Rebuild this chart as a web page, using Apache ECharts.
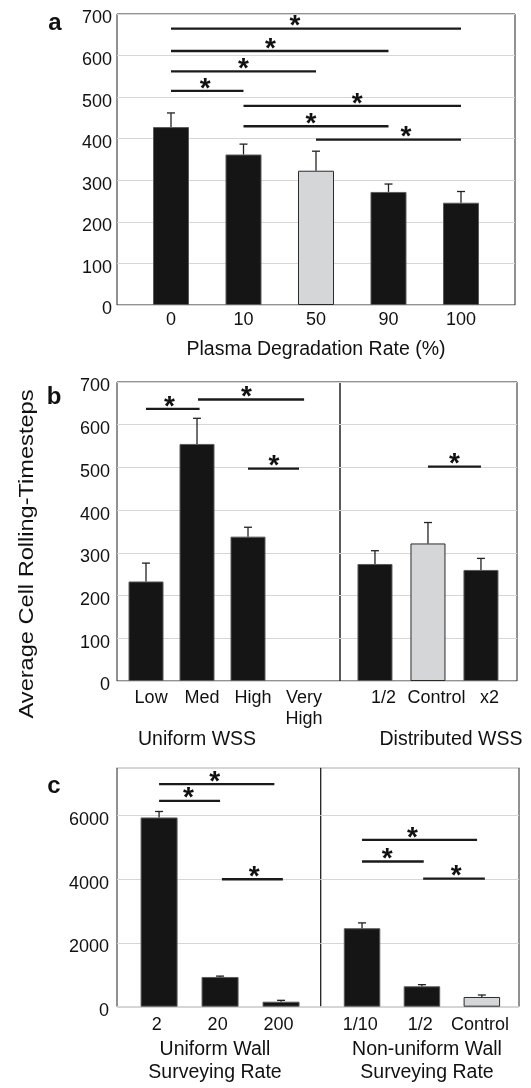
<!DOCTYPE html>
<html>
<head>
<meta charset="utf-8">
<script src="https://cdn.jsdelivr.net/npm/echarts@6/dist/echarts.min.js"></script>
<style>
html,body{margin:0;padding:0;background:#fff;}
#c{width:531px;height:1088px;}
</style>
</head>
<body>
<div id="c"></div>
<script>
// ---------- DATA ----------
// Panel a
const catsA = ['0', '10', '50', '90', '100'];
const valsA = [428, 362, 323, 272, 246];
const errA  = [462, 387, 370, 291, 273];
const controlA = 2;
// significance: [from, to, y, asterisk x]
const sigA = [[0, 4, 665, 1.71], [0, 3, 611, 1.37], [0, 2, 562, 1.0], [0, 1, 515, 0.47],
              [1, 4, 479, 2.57], [1, 3, 430, 1.93], [2, 4, 398, 3.24]];

// Panel b
const catsB1 = ['Low', 'Med', 'High', 'Very\nHigh'];
const valsB1 = [233, 555, 338, null];
const errB1  = [276, 615, 360, null];
const sigB1  = [[0, 1.05, 637, 0.46], [1.02, 3.1, 659, 1.97], [2, 3, 497, 2.51]];
const catsB2 = ['1/2', 'Control', 'x2'];
const valsB2 = [274, 322, 260];
const errB2  = [305, 371, 287];
const controlB2 = 1;
const sigB2  = [[1, 2, 502, 1.5]];

// Panel c
const catsC1 = ['2', '20', '200'];
const valsC1 = [5938, 933, 157];
const errC1  = [6126, 960, 200];
const sigC1  = [[0, 1.89, 6987, 0.91], [0, 1, 6462, 0.48], [1.03, 2.03, 4000, 1.56]];
const catsC2 = ['1/10', '1/2', 'Control'];
const valsC2 = [2462, 640, 305];
const errC2  = [2630, 692, 367];
const controlC2 = 2;
const sigC2  = [[0, 1.92, 5237, 0.84], [0, 1.03, 4556, 0.42], [1.02, 2.05, 4022, 1.57]];

const yTicksAB = {min: 0, max: 700, interval: 100};
const yTicksC  = {min: 0, max: 7500, interval: 2000};

// ---------- STYLE / BUILD ----------
const FONT = '"Liberation Sans", Arial, Helvetica, sans-serif';
const BLACK = '#151515';
const GRAY = '#d5d6d8';
const TICK_FS = 18;
const NAME_FS = 19.5;
const chart = echarts.init(document.getElementById('c'), null, {renderer: 'canvas'});

function gridDef(left, top, width, height) {
  return {left, top, width, height, show: true, borderColor: '#222', borderWidth: 1,
          backgroundColor: 'transparent', containLabel: false};
}
// labelShift: small offset (in axis units) of the tick labels relative to bar centres
function xAxisDef(gi, cats, min, max, opts) {
  opts = opts || {};
  const shift = opts.shift || 0;
  const idx = cats.map((c, i) => i + shift);
  return {
    type: 'value', gridIndex: gi, min, max,
    axisLine: {show: false}, axisTick: {show: false}, splitLine: {show: false},
    axisLabel: {
      customValues: idx, showMinLabel: true, showMaxLabel: true, hideOverlap: false,
      formatter: (v) => { const i = Math.round(v - shift); return cats[i] !== undefined ? cats[i] : ''; },
      color: '#111', fontFamily: FONT, fontSize: TICK_FS, lineHeight: opts.lh || 21,
      margin: opts.margin || 6, align: 'center'
    }
  };
}
function yAxisDef(gi, ticks, showLabels, margin, hideMax) {
  return {
    type: 'value', gridIndex: gi, min: ticks.min, max: ticks.max, interval: ticks.interval,
    axisLine: {show: false}, axisTick: {show: false},
    splitLine: {show: true, lineStyle: {color: '#d6d6d6', width: 1}},
    axisLabel: {show: showLabels, color: '#111', fontFamily: FONT, fontSize: TICK_FS, margin: margin,
                showMaxLabel: !hideMax, verticalAlign: 'top', lineHeight: 9,
                formatter: (v) => String(v)}
  };
}
function barSeries(gi, vals, control, width) {
  const data = [];
  vals.forEach((v, i) => {
    if (v === null) return;
    const isCtrl = i === control;
    data.push({value: [i, v], itemStyle: {
      color: isCtrl ? GRAY : BLACK,
      borderColor: isCtrl ? '#2a2a2a' : '#5a5a5a', borderWidth: 1}});
  });
  return {type: 'bar', xAxisIndex: gi, yAxisIndex: gi, barWidth: width, data, z: 2,
          animation: false};
}
function errSeries(gi, vals, errs) {
  const data = [];
  vals.forEach((v, i) => { if (v !== null) data.push([i, errs[i], v]); });
  return {
    type: 'custom', xAxisIndex: gi, yAxisIndex: gi, z: 3, clip: false, animation: false,
    encode: {x: 0, y: [1, 2]},
    renderItem: (params, api) => {
      const x = api.value(0);
      const p = api.coord([x, api.value(1)]);
      const b = api.coord([x, api.value(2)]);
      const st = {stroke: '#222', lineWidth: 1.3};
      return {type: 'group', children: [
        {type: 'line', shape: {x1: p[0], y1: p[1], x2: b[0], y2: b[1]}, style: st},
        {type: 'line', shape: {x1: p[0] - 4, y1: p[1], x2: p[0] + 4, y2: p[1]}, style: st}
      ]};
    },
    data
  };
}
function sigSeries(gi, sig) {
  return {
    type: 'custom', xAxisIndex: gi, yAxisIndex: gi, z: 4, clip: false, animation: false,
    encode: {x: [0, 1], y: 2},
    renderItem: (params, api) => {
      const y = api.value(2);
      const p1 = api.coord([api.value(0), y]);
      const p2 = api.coord([api.value(1), y]);
      const pa = api.coord([api.value(3), y]);
      return {type: 'group', children: [
        {type: 'line', shape: {x1: p1[0], y1: p1[1], x2: p2[0], y2: p2[1]},
         style: {stroke: '#1a1a1a', lineWidth: 2.3}},
        {type: 'text', x: pa[0], y: pa[1] - 2,
         style: {text: '*', font: 'bold 28px ' + FONT, fill: '#111', align: 'center', verticalAlign: 'middle'}}
      ]};
    },
    data: sig
  };
}

function label(x, y, text, font, extra) {
  return Object.assign({type: 'text', x, y,
    style: Object.assign({text, font, fill: '#111', align: 'center', verticalAlign: 'middle'}, extra || {})});
}

const option = {
  backgroundColor: '#fff',
  animation: false,
  grid: [
    gridDef(117, 14, 398, 291),       // a
    gridDef(117, 382, 223, 299),      // b left
    gridDef(340, 382, 177, 299),      // b right
    gridDef(117, 767.7, 203.7, 239),  // c left
    gridDef(320.7, 767.7, 198.3, 239) // c right
  ],
  xAxis: [
    xAxisDef(0, catsA, -0.745, 4.745, {margin: 5, lh: 20}),
    xAxisDef(1, catsB1, -0.569, 3.804, {margin: 7, lh: 21, shift: 0.1}),
    xAxisDef(2, catsB2, -0.66, 2.68, {margin: 7, lh: 21, shift: 0.16}),
    xAxisDef(3, catsC1, -0.69, 2.65, {margin: 8, lh: 21, shift: -0.04}),
    xAxisDef(4, catsC2, -0.69, 2.62, {margin: 8, lh: 21, shift: -0.03})
  ],
  yAxis: [
    yAxisDef(0, yTicksAB, true, 5, false),
    yAxisDef(1, yTicksAB, true, 7, false),
    yAxisDef(2, yTicksAB, false, 7, false),
    yAxisDef(3, yTicksC, true, 8, true),
    yAxisDef(4, yTicksC, false, 8, true)
  ],
  series: [
    barSeries(0, valsA, controlA, 36), errSeries(0, valsA, errA), sigSeries(0, sigA),
    barSeries(1, valsB1, -1, 35), errSeries(1, valsB1, errB1), sigSeries(1, sigB1),
    barSeries(2, valsB2, controlB2, 35), errSeries(2, valsB2, errB2), sigSeries(2, sigB2),
    barSeries(3, valsC1, -1, 37), errSeries(3, valsC1, errC1), sigSeries(3, sigC1),
    barSeries(4, valsC2, controlC2, 36.5), errSeries(4, valsC2, errC2), sigSeries(4, sigC2)
  ],
  graphic: [
    label(55, 23, 'a', 'bold 24px ' + FONT),
    label(54, 397, 'b', 'bold 24px ' + FONT),
    label(54, 786, 'c', 'bold 24px ' + FONT),
    Object.assign(label(27, 554, 'Average Cell Rolling-Timesteps', '20.5px ' + FONT),
                  {rotation: Math.PI / 2, scaleX: 1.15}),
    label(316, 350, 'Plasma Degradation Rate (%)', NAME_FS + 'px ' + FONT),
    label(197, 740, 'Uniform WSS', NAME_FS + 'px ' + FONT),
    label(451, 740, 'Distributed WSS', NAME_FS + 'px ' + FONT),
    label(215, 1061, 'Uniform Wall\nSurveying Rate', NAME_FS + 'px ' + FONT, {lineHeight: 23}),
    label(427, 1061, 'Non-uniform Wall\nSurveying Rate', NAME_FS + 'px ' + FONT, {lineHeight: 23})
  ]
};
chart.setOption(option);
</script>
</body>
</html>
